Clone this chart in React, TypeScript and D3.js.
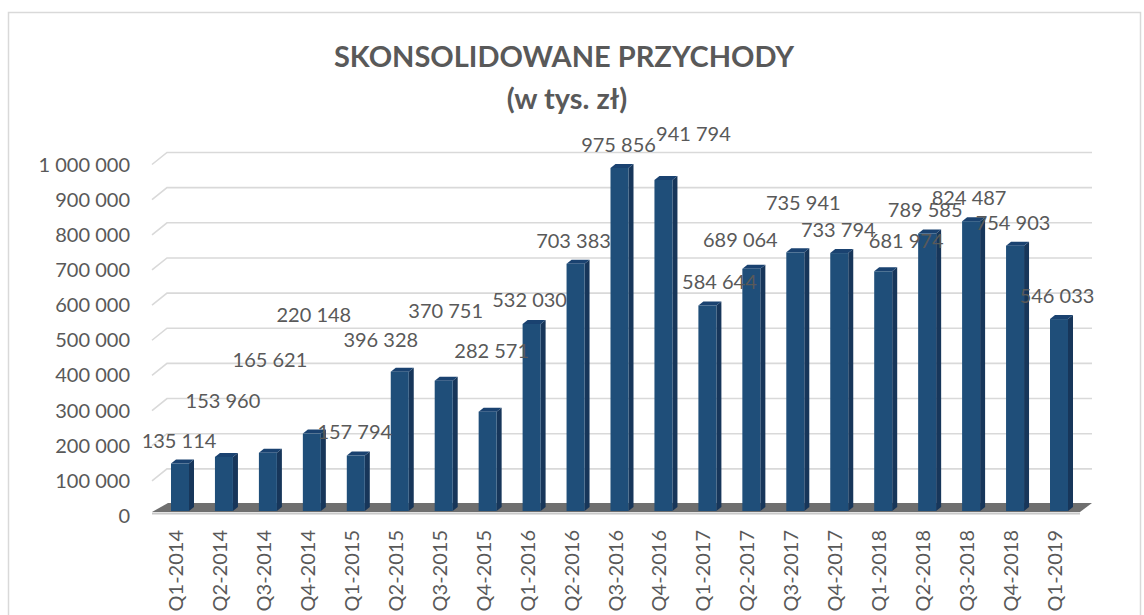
import React, { useEffect, useRef } from "react";
import * as d3 from "d3";

const quarters = [
  "Q1-2014", "Q2-2014", "Q3-2014", "Q4-2014",
  "Q1-2015", "Q2-2015", "Q3-2015", "Q4-2015",
  "Q1-2016", "Q2-2016", "Q3-2016", "Q4-2016",
  "Q1-2017", "Q2-2017", "Q3-2017", "Q4-2017",
  "Q1-2018", "Q2-2018", "Q3-2018", "Q4-2018",
  "Q1-2019",
];

const revenue = [
  135114, 153960, 165621, 220148,
  157794, 396328, 370751, 282571,
  532030, 703383, 975856, 941794,
  584644, 689064, 735941, 733794,
  681974, 789585, 824487, 754903,
  546033,
];

const yTicks = [0, 100000, 200000, 300000, 400000, 500000, 600000, 700000, 800000, 900000, 1000000];

// Excel placed the data labels a bit erratically; nudges (px) from the bar top
const labelNudge: [number, number][] = [
  [-1, -16], [-1, -49], [2, -86], [2, -112],
  [-1, -17], [-19, -25], [2, -63], [4, -54],
  [-2, -17], [-2, -16], [-1, -16], [30, -39],
  [12, -16], [-11, -22], [8, -42], [-1, -16],
  [23, -23], [-2, -16], [-2, -16], [-2, -16],
  [-2, -16],
];

const App = () => {
  const svgRef = useRef<SVGSVGElement | null>(null);
  const width = 1144;
  const height = 615;

  useEffect(() => {
    const svg = d3.select(svgRef.current);
    svg.selectAll("*").remove();

    const font = "Lato, 'Noto Sans', sans-serif";
    const textColor = "#595959";
    const fmt = d3.formatLocale({ decimal: ",", thousands: " ", grouping: [3], currency: ["", " zł"] }).format(",d");

    const x = d3.scalePoint<string>().domain(quarters).range([180, 1059]);
    const y = d3.scaleLinear().domain([0, 1000000]).range([511, 159.5]);

    const barW = 18;
    const depthX = 5;
    const depthY = -4;

    // chart border
    svg.append("rect")
      .attr("x", 8.5).attr("y", 12.5)
      .attr("width", 1132).attr("height", 640)
      .attr("fill", "#fff")
      .attr("stroke", "#d9d9d9")
      .attr("stroke-width", 1.5);

    // title
    svg.append("text")
      .attr("x", 564).attr("y", 67)
      .attr("text-anchor", "middle")
      .style("font", `bold 29px ${font}`)
      .attr("fill", textColor)
      .text("SKONSOLIDOWANE PRZYCHODY");
    svg.append("text")
      .attr("x", 567).attr("y", 109)
      .attr("text-anchor", "middle")
      .style("font", `bold 29px ${font}`)
      .attr("fill", textColor)
      .text("(w tys. zł)");

    // gridlines on the back wall with a diagonal side wall
    const grid = svg.append("g")
      .attr("fill", "none")
      .attr("stroke", "#d9d9d9")
      .attr("stroke-width", 1.6);
    grid.selectAll("path")
      .data(yTicks.slice(1))
      .join("path")
      .attr("d", (t) => `M152,${y(t) + 5}L167,${y(t) - 7}L1092,${y(t) - 7}`);

    // y labels
    svg.append("g")
      .selectAll("text")
      .data(yTicks)
      .join("text")
      .attr("x", 130)
      .attr("y", (t) => y(t) + 5)
      .attr("dy", "0.35em")
      .attr("text-anchor", "end")
      .style("font", `20px ${font}`)
      .attr("fill", textColor)
      .text((t) => fmt(t));

    // floor
    const y0 = y(0);
    svg.append("path")
      .attr("d", `M152,${y0 + 1}L168,${y0 - 8}L1092,${y0 - 8}L1080,${y0 + 1}Z`)
      .attr("fill", "#6f6f6f");
    svg.append("line")
      .attr("x1", 152).attr("x2", 1080)
      .attr("y1", y0 + 2.5).attr("y2", y0 + 2.5)
      .attr("stroke", "#c8c8c8")
      .attr("stroke-width", 2);

    // bars
    const bars = svg.append("g")
      .selectAll("g")
      .data(revenue)
      .join("g");

    bars.append("path")
      .attr("fill", "#17365a")
      .attr("d", (v, i) => {
        const r = x(quarters[i])! + barW / 2;
        const top = y(v);
        return `M${r},${top}L${r + depthX},${top + depthY}L${r + depthX},${y0 + depthY}L${r},${y0}Z`;
      });
    bars.append("path")
      .attr("fill", "#1a4270")
      .attr("d", (v, i) => {
        const l = x(quarters[i])! - barW / 2;
        const top = y(v);
        return `M${l},${top}L${l + depthX},${top + depthY}L${l + barW + depthX},${top + depthY}L${l + barW},${top}Z`;
      });
    bars.append("rect")
      .attr("fill", "#1f4e79")
      .attr("x", (v, i) => x(quarters[i])! - barW / 2)
      .attr("y", (v) => y(v))
      .attr("width", barW)
      .attr("height", (v) => y0 - y(v));

    // x labels
    svg.append("g")
      .selectAll("text")
      .data(quarters)
      .join("text")
      .attr("transform", (q) => `translate(${x(q)! - 4},530) rotate(-90)`)
      .attr("dy", "0.35em")
      .attr("text-anchor", "end")
      .style("font", `20px ${font}`)
      .attr("fill", textColor)
      .text((q) => q);

    // data labels
    svg.append("g")
      .selectAll("text")
      .data(revenue)
      .join("text")
      .attr("x", (v, i) => x(quarters[i])! + labelNudge[i][0])
      .attr("y", (v, i) => y(v) + labelNudge[i][1])
      .attr("text-anchor", "middle")
      .style("font", `20px ${font}`)
      .attr("fill", textColor)
      .text((v) => fmt(v));
  }, []);

  return (
    <svg
      ref={svgRef}
      width={width}
      height={height}
      viewBox={`0 0 ${width} ${height}`}
      style={{ position: "absolute", left: 0, top: 0, background: "#fff" }}
    ></svg>
  );
};

export default App;
